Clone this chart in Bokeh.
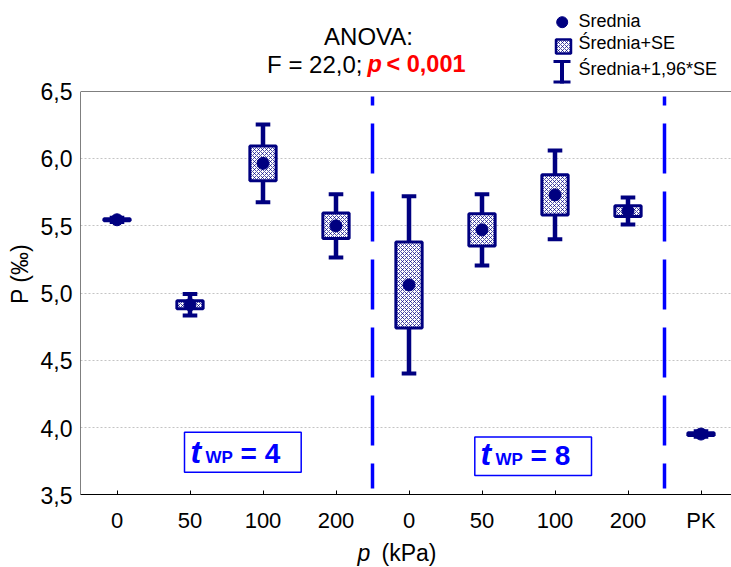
import numpy as np
from bokeh.plotting import figure
from bokeh.models import Range1d, FixedTicker, CustomJSTickFormatter, Span, ColumnDataSource
from bokeh.layouts import column, row
from bokeh.embed import file_html
from bokeh.resources import INLINE
from bokeh.core.properties import value

# ---------------- data ----------------
groups = ["0", "50", "100", "200", "0", "50", "100", "200", "PK"]
means = [5.545, 4.913, 5.965, 5.50, 5.06, 5.47, 5.73, 5.61, 3.95]
se = [0.008, 0.03, 0.13, 0.095, 0.32, 0.12, 0.15, 0.04, 0.01]
ci = [0.016, 0.08, 0.29, 0.235, 0.66, 0.265, 0.33, 0.10, 0.02]
separators = [3.5, 7.5]
y_ticks = [3.5, 4.0, 4.5, 5.0, 5.5, 6.0, 6.5]

NAVY = "#000080"
BLUE = "#0000ff"
RED = "#ff0000"
FONT = "Liberation Sans"

# ---------------- layout constants (page pixels) ----------------
PAGE_W, PAGE_H = 731, 567
FRAME_LEFT, FRAME_TOP, FRAME_BOTTOM = 80, 91, 495
PX_PER_CAT = 73.0
PX_PER_UNIT = (FRAME_BOTTOM - FRAME_TOP) / 3.0
MID = 0.35  # text y is drawn at the em-box middle: shift from baseline


def xd(px):
    return (px - FRAME_LEFT) / PX_PER_CAT - 0.5


def yd(py):
    return 6.5 - (py - FRAME_TOP) / PX_PER_UNIT


def blank(x0, y0, w, h):
    f = figure(width=w, height=h, x_range=Range1d(x0, x0 + w), y_range=Range1d(y0 + h, y0),
               output_backend="svg", toolbar_location=None, min_border=0,
               x_axis_location=None, y_axis_location=None)
    f.grid.visible = False
    f.outline_line_color = None
    return f


def ptext(f, x, base, text, size, style="normal", color="black", align="left"):
    f.text(x=[x], y=[base - MID * size], text=[text], text_font=value(FONT),
           text_font_size=f"{size}px", text_font_style=style, text_color=color,
           text_align=align, text_baseline="alphabetic")


RIGHT_W = PAGE_W - FRAME_LEFT

# ---------------- header (title + legend) ----------------
HDR_H = FRAME_TOP
hdr = blank(FRAME_LEFT, 0, RIGHT_W, HDR_H)
ptext(hdr, 368, 44, "ANOVA:", 24, align="center")
ptext(hdr, 362, 72, "F = 22,0;", 24, align="right")
ptext(hdr, 367, 72, "p", 23.5, "bold italic", RED)
ptext(hdr, 386, 72, "< 0,001", 23.5, "bold", RED)

# legend icons
hdr.scatter(x=[561.7], y=[21.7], size=11, color=NAVY)
hdr.quad(left=[555.5], right=[570.5], top=[39], bottom=[53], fill_color="white",
         line_color=NAVY, line_width=2.5, hatch_pattern="diagonal_cross",
         hatch_color=NAVY, hatch_scale=4, hatch_weight=1, hatch_alpha=0.7)
hdr.segment(x0=[561.5], y0=[60], x1=[561.5], y1=[83], line_width=4, color=NAVY)
hdr.segment(x0=[553, 553], y0=[61, 81.5], x1=[570, 570], y1=[61, 81.5], line_width=3,
            color=NAVY)
for base, t in zip([27, 49, 75], ["Srednia", "Średnia+SE", "Średnia+1,96*SE"]):
    ptext(hdr, 578, base, t, 18)

# ---------------- left strip: y tick labels + y title ----------------
LEFT_BOTTOM_PAD = 20
left = figure(width=FRAME_LEFT, height=PAGE_H, x_range=Range1d(0, 1),
              y_range=Range1d(yd(PAGE_H - LEFT_BOTTOM_PAD), yd(0)),
              output_backend="svg", toolbar_location=None,
              min_border_left=FRAME_LEFT - 1, min_border_right=0, min_border_top=0,
              min_border_bottom=LEFT_BOTTOM_PAD, x_axis_location=None)
left.grid.visible = False
left.outline_line_color = None
left.yaxis.ticker = FixedTicker(ticks=y_ticks)
left.yaxis.formatter = CustomJSTickFormatter(code="return tick.toFixed(1).replace('.', ',');")
left.yaxis.major_tick_in = 0
left.yaxis.major_tick_out = 0
left.yaxis.minor_tick_line_color = None
left.yaxis.axis_line_color = None
left.yaxis.major_label_standoff = 7
left.yaxis.major_label_text_font = FONT
left.yaxis.major_label_text_font_size = "23px"
left.yaxis.major_label_text_color = "black"
left.yaxis.axis_label = "P (‰)"
left.yaxis.axis_label_text_font = FONT
left.yaxis.axis_label_text_font_style = "normal"
left.yaxis.axis_label_text_font_size = "23px"
left.yaxis.axis_label_text_color = "black"
left.yaxis.axis_label_standoff = 5

# ---------------- main plot ----------------
MAIN_H = 444
main = figure(width=RIGHT_W, height=MAIN_H,
              x_range=Range1d(-0.5, xd(PAGE_W)), y_range=Range1d(3.5, 6.5),
              output_backend="svg", toolbar_location=None,
              min_border_left=0, min_border_right=0,
              min_border_top=0, min_border_bottom=MAIN_H - (FRAME_BOTTOM - FRAME_TOP))
main.outline_line_color = None
main.yaxis.visible = False
main.xgrid.visible = False
main.ygrid.ticker = FixedTicker(ticks=y_ticks)
main.ygrid.grid_line_color = "#c4c4c4"
main.ygrid.grid_line_dash = "2 2"
main.ygrid.grid_line_width = 1

main.xaxis.ticker = FixedTicker(ticks=list(range(len(groups))))
main.xaxis.major_label_overrides = {i: g for i, g in enumerate(groups)}
main.xaxis.major_tick_in = 4
main.xaxis.major_tick_out = 0
main.xaxis.major_tick_line_color = "black"
main.xaxis.minor_tick_line_color = None
main.xaxis.major_label_standoff = 13
main.xaxis.major_label_text_font = FONT
main.xaxis.major_label_text_font_size = "22px"
main.xaxis.major_label_text_color = "black"
main.xaxis.axis_line_color = "black"

main.add_layout(Span(location=6.5, dimension="width", line_color="black", line_width=1))
main.add_layout(Span(location=-0.5, dimension="height", line_color="black", line_width=1))

xs = list(range(len(groups)))
src = ColumnDataSource(dict(
    x=xs,
    mean=means,
    se_lo=[m - s for m, s in zip(means, se)],
    se_hi=[m + s for m, s in zip(means, se)],
    ci_lo=[m - c for m, c in zip(means, ci)],
    ci_hi=[m + c for m, c in zip(means, ci)],
    cap_l=[x - 0.1 for x in xs],
    cap_r=[x + 0.1 for x in xs],
))

# group separators (dashed blue)
main.segment(x0=separators, y0=[yd(96)] * 2, x1=separators, y1=[yd(489)] * 2,
             line_color=BLUE, line_width=3.5,
             line_dash="9 18 50 18 50 18 50 18 50 18 50 18 50 100")

main.segment(x0="x", y0="ci_lo", x1="x", y1="ci_hi", source=src, line_color=NAVY,
             line_width=4.5)
main.segment(x0="cap_l", y0="ci_hi", x1="cap_r", y1="ci_hi", source=src, line_color=NAVY,
             line_width=4)
main.segment(x0="cap_l", y0="ci_lo", x1="cap_r", y1="ci_lo", source=src, line_color=NAVY,
             line_width=4)
main.vbar(x="x", width=0.36, bottom="se_lo", top="se_hi", source=src, fill_color="white",
          line_color=NAVY, line_width=3, hatch_pattern="diagonal_cross", hatch_color=NAVY,
          hatch_scale=4, hatch_weight=1, hatch_alpha=0.7)
main.scatter(x="x", y="mean", source=src, size=12, color=NAVY)

# t_WP annotation boxes
main.quad(left=[xd(184), xd(474.3)], right=[xd(300.7), xd(591)],
          top=[yd(432.7), yd(437.3)], bottom=[yd(472.7), yd(476)],
          fill_color="white", line_color=BLUE, line_width=1.5)


def txt(px, base, text, size, style):
    main.text(x=[xd(px)], y=[yd(base - MID * size)], text=[text], text_font=value(FONT),
              text_font_size=f"{size}px", text_font_style=style, text_color=BLUE,
              text_align="left", text_baseline="alphabetic")


for (tx, wx, ex, by, num) in [(190, 205, 240, 463.5, "= 4"), (480, 495, 530, 466, "= 8")]:
    txt(tx, by, "t", 32, "bold italic")
    txt(wx, by, "WP", 17, "bold")
    txt(ex, by, num, 28, "bold")

# ---------------- footer (x-axis title) ----------------
FOOT_TOP = FRAME_TOP + MAIN_H
FOOT_H = PAGE_H - FOOT_TOP
foot = blank(FRAME_LEFT, FOOT_TOP, RIGHT_W, FOOT_H)
ptext(foot, 357, 561, "p", 23, "italic")
ptext(foot, 381, 561, "(kPa)", 23)

layout = row(left, column(hdr, main, foot, spacing=0), spacing=0)

open("out.html", "w").write(file_html(layout, INLINE))
